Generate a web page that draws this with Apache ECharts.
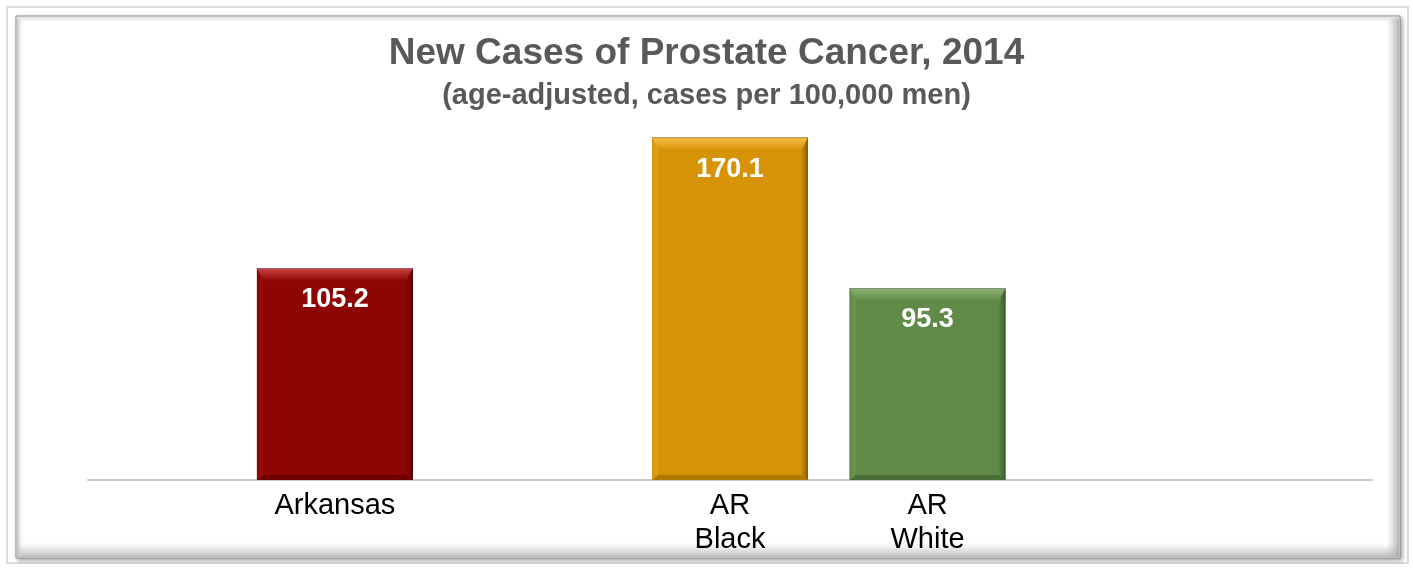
<!DOCTYPE html>
<html>
<head>
<meta charset="utf-8">
<style>
  html, body { margin: 0; padding: 0; background: #ffffff; }
  #chart { width: 1413px; height: 569px; }
</style>
<script src="https://cdn.jsdelivr.net/npm/echarts@6/dist/echarts.min.js"></script>
</head>
<body>
<div id="chart"></div>
<script>
// Prostate cancer incidence, 2014 (age-adjusted, per 100,000 men)
const groups = ['Arkansas', 'AR\nBlack', 'AR\nWhite'];
const values = [105.2, 170.1, 95.3];
// position of each group along the 13-slot category axis
const slotOf = [2, 6, 8];
const slotCount = 13;

// bevel palette per bar: face, top, left, right, bottom
const palettes = [
  { face: '#8E0505', top: '#CA4444', left: '#9C0E0E', right: '#560000', bottom: '#6E0202' },
  { face: '#D69307', top: '#F8C046', left: '#DDA024', right: '#875A00', bottom: '#B07800' },
  { face: '#5F8A48', top: '#8CB277', left: '#6A9553', right: '#3A572B', bottom: '#4B6E38' }
];

const FONT = '"Liberation Sans", Arial, sans-serif';

const categories = [];
for (let i = 0; i < slotCount; i++) categories.push('');
groups.forEach((g, i) => { categories[slotOf[i]] = g; });

const barData = values.map((v, i) => [slotOf[i], v, i]);

const BAR_W = 156;

function renderBevelBar(params, api) {
  const slot = api.value(0);
  const val = api.value(1);
  const pal = palettes[api.value(2)];
  const topPt = api.coord([slot, val]);
  const basePt = api.coord([slot, 0]);
  const x0 = topPt[0] - BAR_W / 2, x1 = topPt[0] + BAR_W / 2;
  const y0 = topPt[1], y1 = basePt[1];
  const t = 13, sl = 6, sr = 7, b = 5;
  const grad = (c1, c2, x2, y2) => new echarts.graphic.LinearGradient(0, 0, x2, y2, [
    { offset: 0, color: c1 }, { offset: 1, color: c2 }
  ]);
  return {
    type: 'group',
    children: [
      { type: 'rect', shape: { x: x0, y: y0, width: BAR_W, height: y1 - y0 },
        style: { fill: pal.face } },
      { type: 'polygon', shape: { points: [[x0, y1], [x0 + sl, y1 - b], [x1 - sr, y1 - b], [x1, y1]] },
        style: { fill: pal.bottom } },
      { type: 'polygon', shape: { points: [[x0, y0], [x0 + sl, y0 + t], [x0 + sl, y1 - b], [x0, y1]] },
        style: { fill: grad(pal.face, pal.left, 1, 0) } },
      { type: 'polygon', shape: { points: [[x1, y0], [x1 - sr, y0 + t], [x1 - sr, y1 - b], [x1, y1]] },
        style: { fill: grad(pal.face, pal.right, 1, 0) } },
      { type: 'polygon', shape: { points: [[x0, y0], [x1, y0], [x1 - sr, y0 + t], [x0 + sl, y0 + t]] },
        style: { fill: grad(pal.top, pal.face, 0, 1) } },
      { type: 'line', shape: { x1: x0, y1: y0 + 0.5, x2: x1, y2: y0 + 0.5 },
        style: { stroke: 'rgba(120,120,120,0.6)', lineWidth: 1 } },
      { type: 'text', x: topPt[0], y: y0 + 32,
        style: { text: String(val), fill: '#ffffff', font: 'bold 27px ' + FONT,
                 align: 'center', verticalAlign: 'middle' } }
    ]
  };
}

const chart = echarts.init(document.getElementById('chart'), null, { renderer: 'canvas' });

chart.setOption({
  backgroundColor: '#ffffff',
  animation: false,
  graphic: [
    { type: 'rect', z: -10, shape: { x: 7, y: 7, width: 1401, height: 556 },
      style: { fill: 'none', stroke: '#dcdcdc', lineWidth: 2 } },
    { type: 'rect', z: -9, shape: { x: 16, y: 16, width: 1384, height: 542 },
      style: { fill: '#ffffff', stroke: '#8c8c8c', lineWidth: 1,
               shadowColor: 'rgba(0,0,0,0.35)', shadowBlur: 4, shadowOffsetX: 2, shadowOffsetY: 2 } },
    { type: 'rect', z: -8, shape: { x: 17, y: 543, width: 1382, height: 14 },
      style: { fill: new echarts.graphic.LinearGradient(0, 0, 0, 1, [
        { offset: 0, color: 'rgba(200,200,200,0)' }, { offset: 1, color: 'rgba(170,170,170,0.8)' }]) } },
    { type: 'rect', z: -8, shape: { x: 1386, y: 17, width: 13, height: 540 },
      style: { fill: new echarts.graphic.LinearGradient(0, 0, 1, 0, [
        { offset: 0, color: 'rgba(200,200,200,0)' }, { offset: 1, color: 'rgba(160,160,160,0.8)' }]) } },
    { type: 'rect', z: -8, shape: { x: 17, y: 17, width: 5, height: 540 },
      style: { fill: new echarts.graphic.LinearGradient(0, 0, 1, 0, [
        { offset: 0, color: 'rgba(190,190,190,0.9)' }, { offset: 1, color: 'rgba(230,230,230,0)' }]) } },
    { type: 'rect', z: -8, shape: { x: 17, y: 17, width: 1382, height: 4 },
      style: { fill: new echarts.graphic.LinearGradient(0, 0, 0, 1, [
        { offset: 0, color: 'rgba(225,225,225,0.9)' }, { offset: 1, color: 'rgba(240,240,240,0)' }]) } }
  ],
  title: [
    { text: 'New Cases of Prostate Cancer, 2014', left: 'center', top: 30,
      textStyle: { fontFamily: FONT, fontWeight: 'bold', fontSize: 37, color: '#595959' } },
    { text: '(age-adjusted, cases per 100,000 men)', left: 'center', top: 76,
      textStyle: { fontFamily: FONT, fontWeight: 'bold', fontSize: 29, color: '#595959' } }
  ],
  grid: { left: 88, right: 41, top: 77, bottom: 89, containLabel: false },
  xAxis: {
    type: 'category',
    data: categories,
    axisLine: { show: true, lineStyle: { color: '#c8c8c8', width: 2 } },
    axisTick: { show: false },
    axisLabel: {
      interval: 0, margin: 9, color: '#000000', fontSize: 29, lineHeight: 34, fontFamily: FONT
    },
    splitLine: { show: false }
  },
  yAxis: {
    type: 'value', min: 0, max: 200, interval: 50,
    show: false, splitLine: { show: false }
  },
  series: [{
    type: 'custom',
    renderItem: renderBevelBar,
    encode: { x: 0, y: 1 },
    data: barData,
    clip: false
  }]
});
</script>
</body>
</html>
